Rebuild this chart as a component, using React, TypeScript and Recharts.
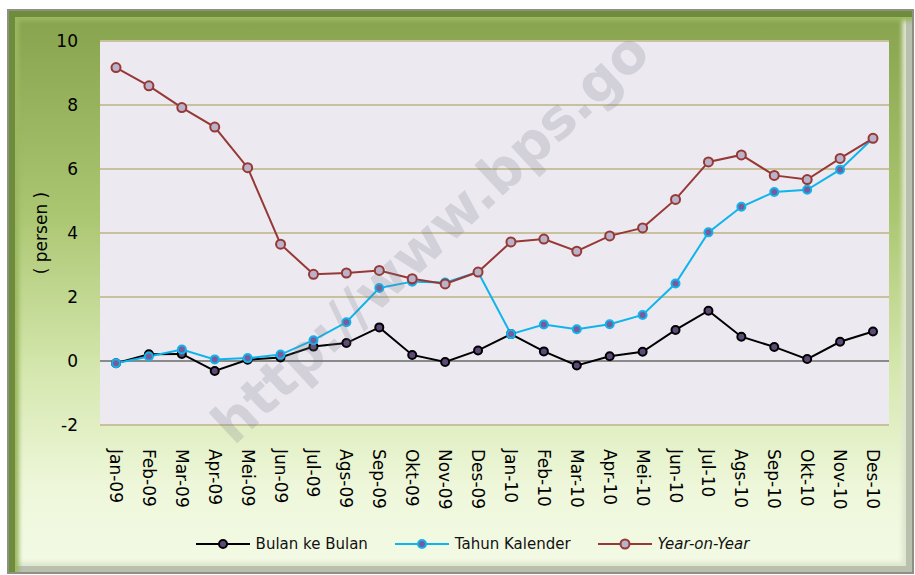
import { LineChart, Line, XAxis, YAxis, CartesianGrid, ReferenceLine, Legend } from 'recharts'

const months = [
  'Jan-09', 'Feb-09', 'Mar-09', 'Apr-09', 'Mei-09', 'Jun-09', 'Jul-09', 'Ags-09', 'Sep-09', 'Okt-09', 'Nov-09', 'Des-09',
  'Jan-10', 'Feb-10', 'Mar-10', 'Apr-10', 'Mei-10', 'Jun-10', 'Jul-10', 'Ags-10', 'Sep-10', 'Okt-10', 'Nov-10', 'Des-10',
]

const bulanKeBulan = [-0.07, 0.21, 0.22, -0.31, 0.04, 0.11, 0.45, 0.56, 1.05, 0.19, -0.03, 0.33, 0.84, 0.3, -0.14, 0.15, 0.29, 0.97, 1.57, 0.76, 0.44, 0.06, 0.6, 0.92]
const tahunKalender = [-0.07, 0.14, 0.36, 0.05, 0.09, 0.2, 0.65, 1.21, 2.28, 2.48, 2.45, 2.78, 0.84, 1.14, 0.99, 1.15, 1.44, 2.42, 4.02, 4.82, 5.28, 5.35, 5.98, 6.96]
const yearOnYear = [9.17, 8.6, 7.92, 7.31, 6.04, 3.65, 2.71, 2.75, 2.83, 2.57, 2.41, 2.78, 3.72, 3.81, 3.43, 3.91, 4.16, 5.05, 6.22, 6.44, 5.8, 5.67, 6.33, 6.96]

const yTicks = [-2, 0, 2, 4, 6, 8, 10]

const data = months.map((m, i) => ({
  name: m,
  bulan: bulanKeBulan[i],
  kalender: tahunKalender[i],
  yoy: yearOnYear[i],
}))

const font = '"DejaVu Sans", Verdana, sans-serif'

const series = [
  { key: 'bulan', label: 'Bulan ke Bulan', color: '#000000', dot: '#5e4a78', r: 4, italic: false },
  { key: 'kalender', label: 'Tahun Kalender', color: '#10b4ec', dot: '#7a5a9c', r: 4, italic: false },
  { key: 'yoy', label: 'Year-on-Year', color: '#963836', dot: '#b9b2c9', r: 4.5, italic: true },
]

function MonthTick({ x, y, payload }: any) {
  const ty = y + 16
  return (
    <text x={x} y={ty} transform={`rotate(90, ${x}, ${ty})`} textAnchor="start" dominantBaseline="central"
      fontSize={17} fill="#000" fontFamily={font}>
      {payload.value}
    </text>
  )
}

function LegendBox() {
  return (
    <div style={{ display: 'flex', justifyContent: 'center', fontFamily: font, fontSize: 15, color: '#111', paddingLeft: 30 }}>
      {series.map((s, i) => (
        <div key={s.key} style={{ display: 'flex', alignItems: 'center', marginRight: i < series.length - 1 ? 27 : 0 }}>
          <svg width={54} height={14} style={{ marginRight: 6 }}>
            <line x1={0} y1={7} x2={54} y2={7} stroke={s.color} strokeWidth={2} />
            <circle cx={27} cy={7} r={s.r} fill={s.dot} stroke={s.color} strokeWidth={2} />
          </svg>
          <span style={{ fontStyle: s.italic ? 'italic' : 'normal' }}>{s.label}</span>
        </div>
      ))}
    </div>
  )
}

export default function App() {
  return (
    <div style={{ position: 'fixed', left: 0, top: 0, width: 915, height: 575, background: '#fff', overflow: 'hidden' }}>
      <div style={{
        position: 'absolute', left: 7, top: 9, width: 903, height: 561,
        border: '2px solid #8d9184',
        background: 'linear-gradient(180deg, #86a24c 0%, #a9c56f 35%, #d6e8b0 65%, #eef7da 85%, #f4fae6 100%)',
        boxShadow: 'inset 6px 6px 0 #6f8c3c, inset 10px 10px 4px #9bb862, inset -6px -6px 0 #b9c0ad, inset -10px -10px 4px #dfe6cf',
      }} />
      <div style={{ position: 'absolute', left: 0, top: 0 }}>
        <LineChart width={915} height={575} data={data} margin={{ top: 41, right: 26, left: 0, bottom: 60 }}>
          <CartesianGrid vertical={false} horizontal fill="#eceaf0" stroke="#c9c09e" strokeWidth={2} />
          <XAxis dataKey="name" interval={0} axisLine={false} tickLine={false} height={90} tick={<MonthTick />}
            padding={{ left: 16, right: 16 }} />
          <YAxis domain={[-2, 10]} ticks={yTicks} width={100} axisLine={false} tickLine={false} tickMargin={16}
            tick={{ fontSize: 17, fill: '#000', fontFamily: font }}
            label={{ value: '( persen )', angle: -90, position: 'insideLeft', offset: 41, style: { fontSize: 17, fill: '#000', fontFamily: font, textAnchor: 'middle' } }} />
          <ReferenceLine y={0} stroke="#8a8a8a" strokeWidth={2} />
          {series.map(s => (
            <Line key={s.key} type="linear" dataKey={s.key} name={s.label} stroke={s.color} strokeWidth={2}
              dot={{ r: s.r, fill: s.dot, stroke: s.color, strokeWidth: 2 }} isAnimationActive={false} />
          ))}
          <Legend layout="horizontal" verticalAlign="middle" align="center" content={<LegendBox />}
            wrapperStyle={{ top: 535, left: 0, width: 915 }} />
        </LineChart>
      </div>
      <div style={{
        position: 'absolute', left: 240, top: 398, whiteSpace: 'nowrap',
        fontFamily: font, fontWeight: 'bold', fontSize: 55, color: 'rgba(120, 120, 130, 0.22)',
        transform: 'rotate(-43deg)', transformOrigin: '0 100%', pointerEvents: 'none', lineHeight: 1,
      }}>http://www.bps.go</div>
    </div>
  )
}
